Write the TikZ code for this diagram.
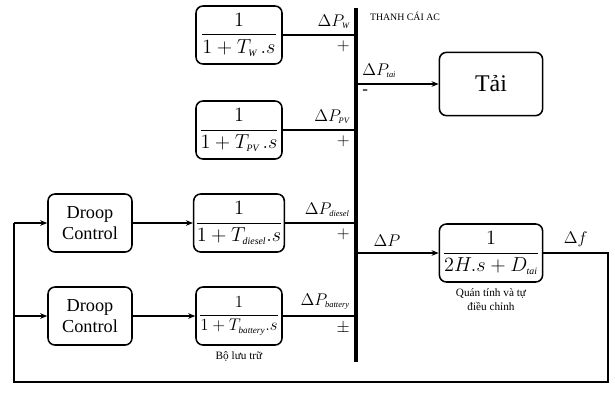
\documentclass[tikz,border=0pt]{standalone}
\usepackage{fontspec}
\setmainfont{Liberation Serif}
\usetikzlibrary{arrows.meta, positioning, calc}
\newcommand{\ind}[1]{_{\scriptscriptstyle\mathit{#1}}}

\begin{document}
\begin{tikzpicture}[
    x=0.025cm, y=-0.025cm,
    bloco/.style={draw, rounded corners=5pt, line width=1.1pt, minimum width=2.15cm,
        minimum height=1.45cm, inner sep=1pt, align=center, font=\fontsize{13}{15}\selectfont},
    fracao/.style={font=\fontsize{14}{16}\selectfont},
    ligacao/.style={line width=0.9pt},
    seta/.style={-{Stealth[length=5pt, width=4pt]}, line width=0.9pt},
    rotulo/.style={inner sep=4pt, font=\fontsize{12}{14}\selectfont},
    legenda/.style={align=center, font=\fontsize{8}{9.5}\selectfont}
]
\useasboundingbox (0,0) rectangle (615,397);
\coordinate (bustop) at (356,8);
\coordinate (busbot) at (356,362);
\draw[line width=3pt] (bustop) -- (busbot);

\node[bloco, fracao] (gW)   at (239,35)  {$\displaystyle\frac{1}{1+T\ind{W}\,.s}$};
\node[bloco, fracao] (gPV)  at (239,130) {$\displaystyle\frac{1}{1+T\ind{PV}\,.s}$};
\node[bloco, fracao] (gDie) at (239,223) {$\displaystyle\frac{1}{1+T\ind{diesel}.s}$};
\node[bloco, fracao, font=\fontsize{13}{15}\selectfont, inner sep=0pt] (gBat) at (239,316) {$\displaystyle\frac{1}{1+T\ind{battery}.s}$};
\node[bloco, minimum width=2.1cm] (droop1) at (90,223) {Droop\\Control};
\node[bloco, minimum width=2.1cm] (droop2) at (90,316) {Droop\\Control};
\node[bloco, minimum width=2.58cm, minimum height=1.58cm, font=\fontsize{17}{19}\selectfont] (tai) at (491,84) {Tải};
\node[bloco, fracao, minimum width=2.58cm] (gH) at (491,253) {$\displaystyle\frac{1}{2H.s+D\ind{tai}}$};

\node[legenda, font=\fontsize{7}{8}\selectfont] (thanhcai) at (405,16) {THANH CÁI AC};
\node[legenda, below=1pt of gBat] (bolutru) {Bộ lưu trữ};
\node[legenda, below=1pt of gH] (quantinh) {Quán tính và tự\\điều chỉnh};

\draw[ligacao] (gW.east) -- (gW.east -| bustop)
    node[rotulo, above left] {$\Delta P\ind{W}$} node[rotulo, below left] {$+$};
\draw[ligacao] (gPV.east) -- (gPV.east -| bustop)
    node[rotulo, above left] {$\Delta P\ind{PV}$} node[rotulo, below left] {$+$};
\draw[ligacao] (gDie.east) -- (gDie.east -| bustop)
    node[rotulo, above left] {$\Delta P\ind{diesel}$} node[rotulo, below left] {$+$};
\draw[ligacao] (gBat.east) -- (gBat.east -| bustop)
    node[rotulo, above left] {$\Delta P\ind{battery}$} node[rotulo, below left] {$\pm$};

\draw[seta] (tai.west -| bustop) node[rotulo, above right] {$\Delta P\ind{tai}$}
    node[rotulo, below right] {-} -- (tai.west);
\draw[seta] (gH.west -| bustop) node[rotulo, above right, xshift=8pt] {$\Delta P$} -- (gH.west);

\draw[seta] (droop1) -- (gDie);
\draw[seta] (droop2) -- (gBat);

\coordinate (fbright) at (608,382);
\coordinate (fbleft) at (14,382);
\draw[ligacao] (gH.east) -- node[rotulo, above] {$\Delta f$} (gH.east -| fbright) -- (fbright) -- (fbleft) -- (fbleft |- droop1.west);
\draw[seta] (fbleft |- droop1.west) -- (droop1.west);
\draw[seta] (fbleft |- droop2.west) -- (droop2.west);
\end{tikzpicture}
\end{document}
